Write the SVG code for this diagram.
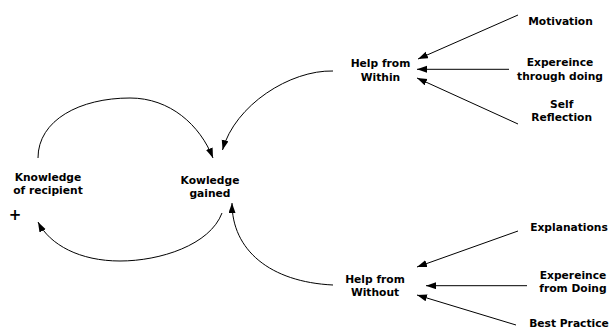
<svg xmlns="http://www.w3.org/2000/svg" width="612" height="329" viewBox="0 0 612 329">
<style>
  text { font-family: "DejaVu Sans", Verdana, sans-serif; font-weight: bold; font-size: 10.7px; fill: #000; text-anchor: middle; }
  .plus { font-size: 15px; }
  .c { fill: none; stroke: #000; stroke-width: 1; marker-end: url(#ah); }
</style>
<defs>
  <marker id="ah" markerUnits="userSpaceOnUse" markerWidth="11" markerHeight="8" refX="10" refY="3.5" orient="auto">
    <path d="M0,0 L10,3.5 L0,7 z" fill="#000"/>
  </marker>
</defs>
<rect width="612" height="329" fill="#fff"/>
<g id="connectors">
  <path class="c" d="M518,15 L418,59"/>
  <path class="c" d="M509,69.3 L417,69.3"/>
  <path class="c" d="M518,124 L417,78"/>
  <path class="c" d="M333,71 C290,70 235,105 222.5,150"/>
  <path class="c" d="M38,158 C38,120 80,98 130,98 C170,98 200,125 213,158"/>
  <path class="c" d="M222,213 C210,245 160,261 120,261 C80,261 50,245 38,222"/>
  <path class="c" d="M333,285 C270,282 232,250 232,203"/>
  <path class="c" d="M518,231 L417,267"/>
  <path class="c" d="M527,285.7 L426,285.7"/>
  <path class="c" d="M516,325 L417,295"/>
</g>
<g id="motivation"><text x="560.5" y="24.5">Motivation</text></g>
<g id="experience-through-doing"><text x="560" y="66">Expereince</text><text x="560" y="79.5">through doing</text></g>
<g id="self-reflection"><text x="561.7" y="108">Self</text><text x="561.7" y="121">Reflection</text></g>
<g id="help-from-within"><text x="380.5" y="67">Help from</text><text x="380.5" y="80.5">Within</text></g>
<g id="knowledge-of-recipient"><text x="48" y="180.5">Knowledge</text><text x="48" y="193.5">of recipient</text><text class="plus" x="15" y="220">+</text></g>
<g id="knowledge-gained"><text x="210" y="184">Kowledge</text><text x="210" y="197">gained</text></g>
<g id="help-from-without"><text x="375" y="283">Help from</text><text x="375" y="296">Without</text></g>
<g id="explanations"><text x="569" y="231">Explanations</text></g>
<g id="experience-from-doing"><text x="573" y="279">Expereince</text><text x="573" y="292">from Doing</text></g>
<g id="best-practice"><text x="569" y="326.5">Best Practice</text></g>
</svg>
